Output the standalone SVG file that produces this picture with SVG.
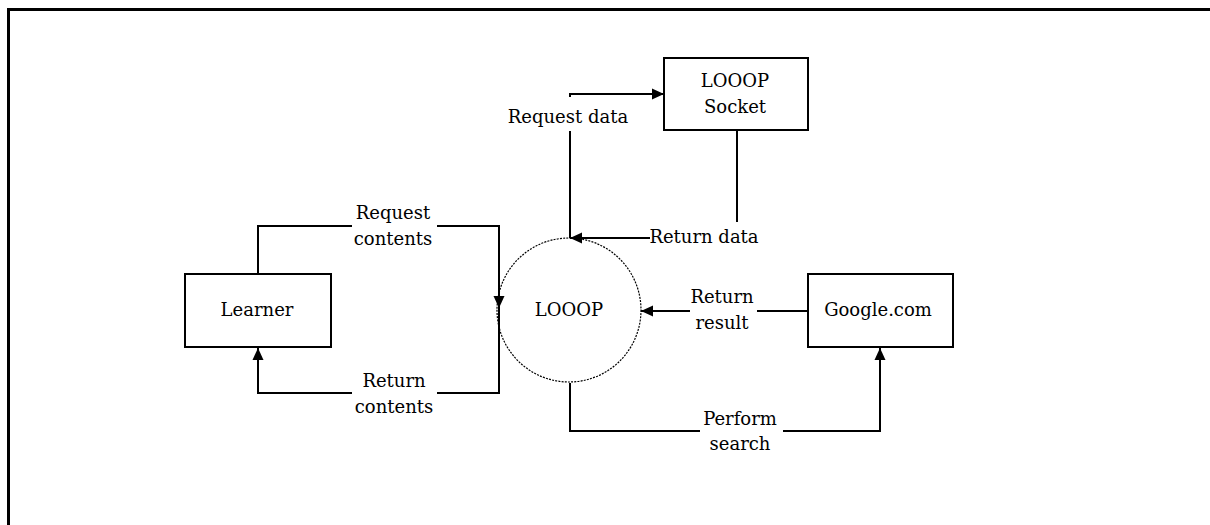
<svg xmlns="http://www.w3.org/2000/svg" width="1210" height="525" viewBox="0 0 1210 525">
  <style>
    .frame { fill: none; stroke: #000; stroke-width: 3; }
    .box { fill: #fff; stroke: #000; stroke-width: 2; }
    .proc { fill: none; stroke: #000; stroke-width: 1.2; stroke-dasharray: 2 1.2; }
    .flow { fill: none; stroke: #000; stroke-width: 2; }
    .lbl { font-family: "DejaVu Serif", "Liberation Serif", serif; font-size: 18px; fill: #000; text-anchor: middle; }
  </style>
  <defs>
    <marker id="arrow" markerUnits="userSpaceOnUse" markerWidth="12" markerHeight="12" viewBox="0 0 12 12" refX="12" refY="6" orient="auto">
      <path d="M0,0.5 L12,6 L0,11.5 z" fill="#000"/>
    </marker>
  </defs>

  <rect width="1210" height="525" fill="#fff"/>

  <!-- page frame: top and left edges -->
  <path class="frame" d="M8.5,525 V9.5 H1210"/>

  <g id="learner">
    <rect class="box" x="185" y="274" width="146" height="73"/>
    <text class="lbl" x="257" y="316">Learner</text>
  </g>

  <g id="looop">
    <circle class="proc" cx="569" cy="310" r="72"/>
    <text class="lbl" x="569" y="316">LOOOP</text>
  </g>

  <g id="looop-socket">
    <rect class="box" x="664" y="58" width="144" height="72"/>
    <text class="lbl" x="735" y="87">LOOOP</text>
    <text class="lbl" x="735" y="113">Socket</text>
  </g>

  <g id="google">
    <rect class="box" x="808" y="274" width="145" height="73"/>
    <text class="lbl" x="878" y="316">Google.com</text>
  </g>

  <!-- connectors -->
  <g id="connectors">
    <!-- Learner -> LOOOP : Request contents -->
    <path class="flow" d="M258,274 V226 H352 M437,226 H499 V308" marker-end="url(#arrow)"/>
    <!-- LOOOP -> Learner : Return contents -->
    <path class="flow" d="M499,308 V393 H437 M352,393 H258 V348" marker-end="url(#arrow)"/>
    <!-- LOOOP -> LOOOP Socket : Request data -->
    <path class="flow" d="M570,238 V131 M570,97 V94 H664" marker-end="url(#arrow)"/>
    <!-- LOOOP Socket -> LOOOP : Return data -->
    <path class="flow" d="M737,130 V222"/>
    <path class="flow" d="M650,238 H570" marker-end="url(#arrow)"/>
    <!-- Google.com -> LOOOP : Return result -->
    <path class="flow" d="M808,311 H757 M690,311 H641" marker-end="url(#arrow)"/>
    <!-- LOOOP -> Google.com : Perform search -->
    <path class="flow" d="M570,383 V431 H700 M783,431 H880 V348" marker-end="url(#arrow)"/>

    <text class="lbl" x="393" y="219">Request</text>
    <text class="lbl" x="393" y="245">contents</text>
    <text class="lbl" x="394" y="387">Return</text>
    <text class="lbl" x="394" y="413">contents</text>
    <text class="lbl" x="568" y="123">Request data</text>
    <text class="lbl" x="704" y="243">Return data</text>
    <text class="lbl" x="722" y="303">Return</text>
    <text class="lbl" x="722" y="329">result</text>
    <text class="lbl" x="740" y="425">Perform</text>
    <text class="lbl" x="740" y="450">search</text>
  </g>
</svg>
